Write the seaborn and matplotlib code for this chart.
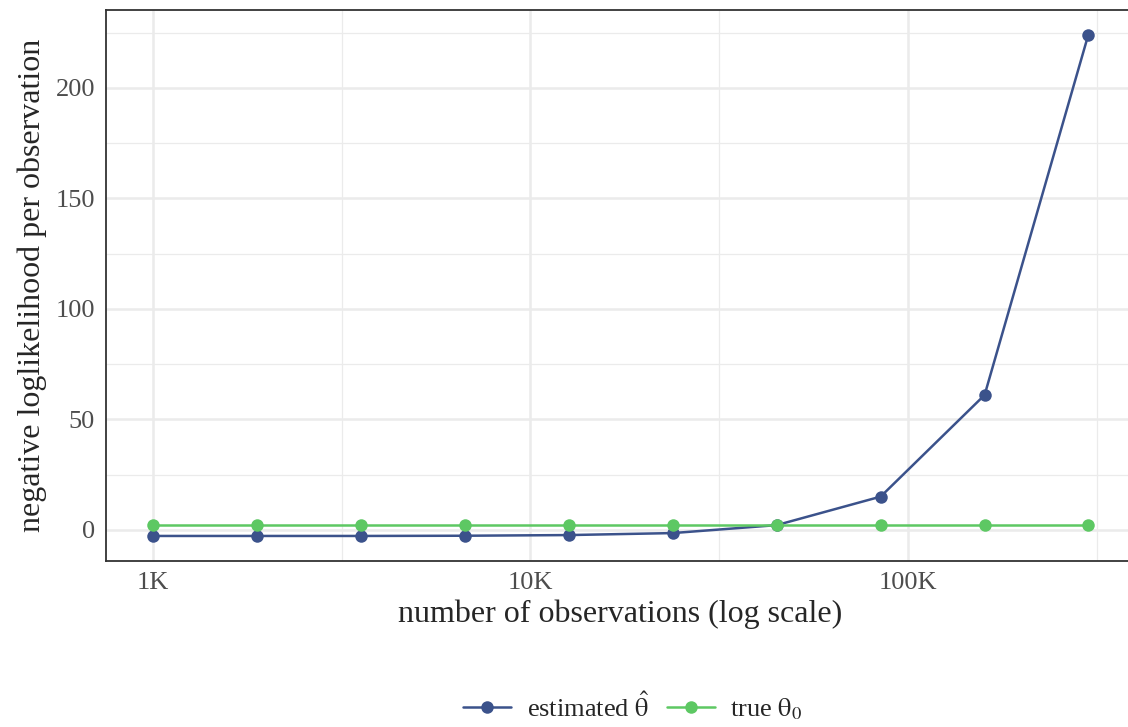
import numpy as np
import pandas as pd
import matplotlib
matplotlib.use("Agg")
from matplotlib import pyplot as plt
from matplotlib import ticker
import seaborn as sns

sns.set_theme(style="white")
plt.rcParams["font.family"] = ["Liberation Serif", "DejaVu Serif"]
plt.rcParams["mathtext.fontset"] = "stix"

# data
n_obs = [1000, 1885, 3554, 6699, 12628, 23806, 44878, 84600, 159500, 300000]
estimated = [-2.8, -2.8, -2.8, -2.7, -2.4, -1.5, 2.1, 15.0, 61.0, 223.9]
true_theta = [2.3, 2.3, 2.3, 2.3, 2.3, 2.3, 2.3, 2.3, 2.3, 2.3]
series_names = ["estimated $\\hat{\\mathrm{\\theta}}$", "true $\\mathrm{\\theta}_0$"]
x_ticks = [1000, 10000, 100000]
x_tick_labels = ["1K", "10K", "100K"]
y_ticks = [0, 50, 100, 150, 200]

df = pd.DataFrame({
    "n": n_obs * 2,
    "nll": estimated + true_theta,
    "series": [series_names[0]] * len(n_obs) + [series_names[1]] * len(n_obs),
})

palette = {series_names[0]: "#3B528B", series_names[1]: "#5DC863"}

fig = plt.figure(figsize=(11.28, 7.27), dpi=100)
ax = fig.add_axes([106 / 1128, 1 - 561 / 727, (1135 - 106) / 1128, 551 / 727])

sns.lineplot(data=df, x="n", y="nll", hue="series", palette=palette, ax=ax,
             marker="o", markersize=9, markeredgewidth=0, linewidth=1.8,
             legend=True)

ax.set_xscale("log")
lo, hi = np.log10(min(n_obs)), np.log10(max(n_obs))
pad = (hi - lo) * 0.05
ax.set_xlim(10 ** (lo - pad), 10 ** (hi + pad))
ymin, ymax = min(estimated), max(estimated)
ypad = (ymax - ymin) * 0.05
ax.set_ylim(ymin - ypad, ymax + ypad)

ax.xaxis.set_major_locator(ticker.FixedLocator(x_ticks))
ax.xaxis.set_major_formatter(ticker.FixedFormatter(x_tick_labels))
ax.xaxis.set_minor_locator(ticker.FixedLocator([10 ** 3.5, 10 ** 4.5, 10 ** 5.5]))
ax.yaxis.set_major_locator(ticker.FixedLocator(y_ticks))
ax.yaxis.set_minor_locator(ticker.FixedLocator([25, 75, 125, 175, 225]))

ax.grid(which="major", color="#EBEBEB", linewidth=1.8)
ax.grid(which="minor", color="#EBEBEB", linewidth=0.9)
ax.set_axisbelow(True)
for s in ax.spines.values():
    s.set_color("#333333")
    s.set_linewidth(1.3)

ax.tick_params(which="major", direction="out", length=4, width=1.3,
               color="#333333", labelsize=19, labelcolor="#4D4D4D", pad=4)
ax.tick_params(which="minor", length=0)

ax.set_xlabel("number of observations (log scale)", fontsize=23, labelpad=4)
ax.set_ylabel("negative loglikelihood per observation", fontsize=23, labelpad=6)

handles, labels = ax.get_legend_handles_labels()
ax.legend(handles, labels, loc="center", bbox_to_anchor=(0.561, 20 / 727),
          bbox_transform=fig.transFigure, ncol=2, frameon=False, fontsize=19,
          handlelength=1.8, columnspacing=0.7, handletextpad=0.6)

fig.savefig("out.png", dpi=100)
